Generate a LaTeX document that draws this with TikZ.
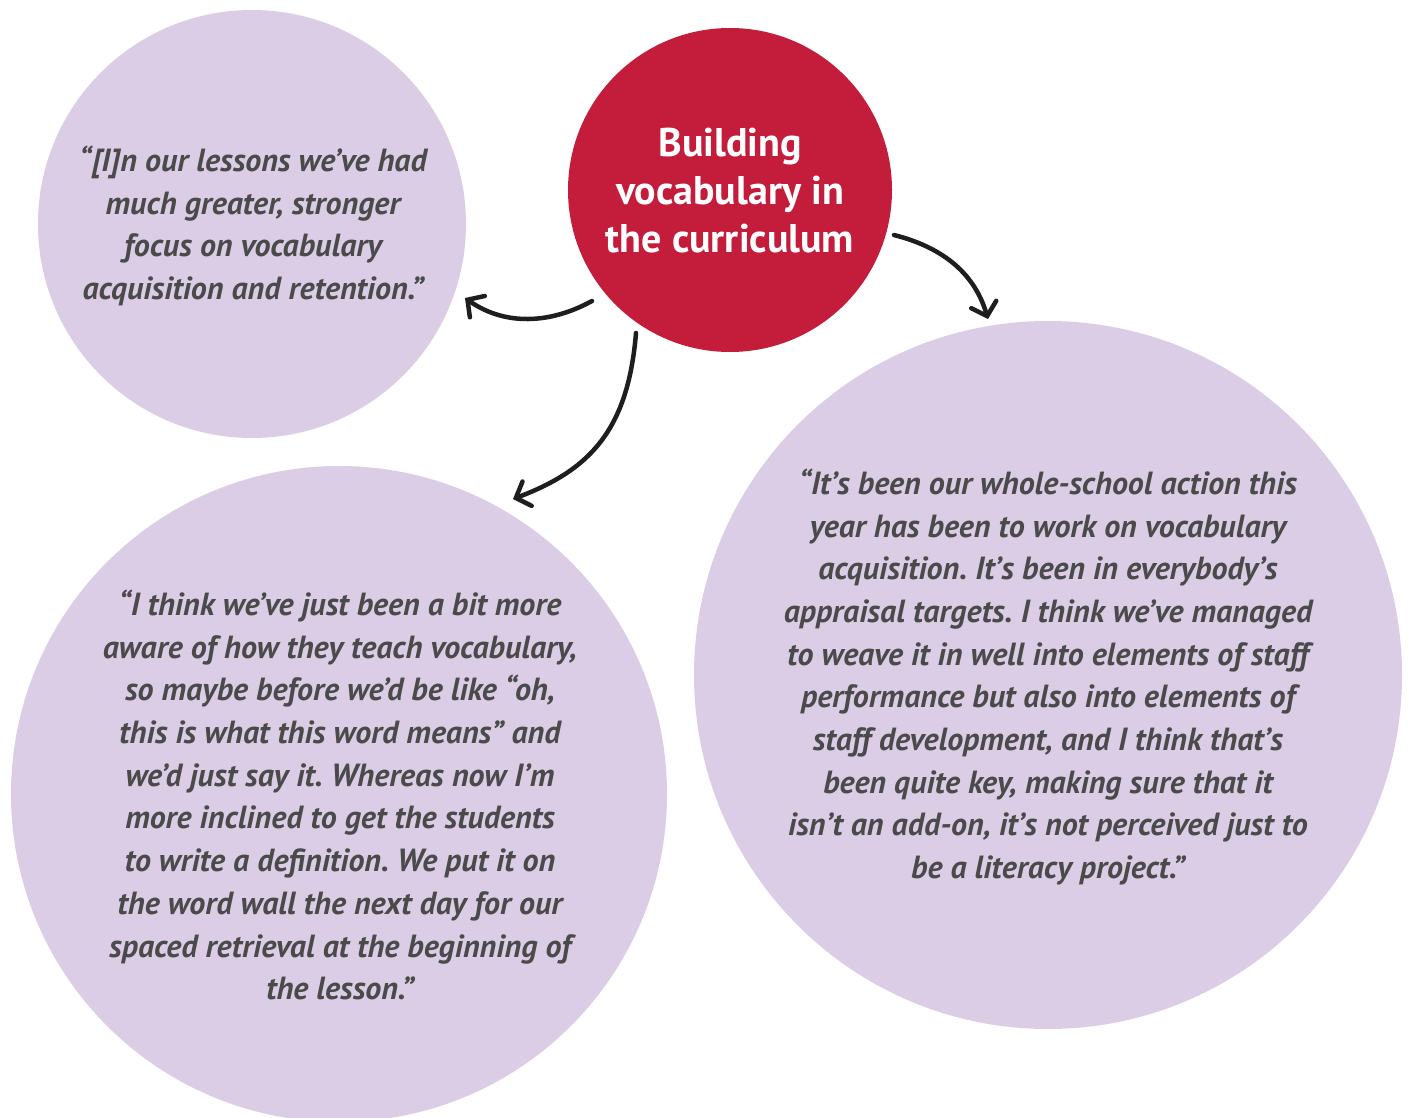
\documentclass[tikz,border=0pt]{standalone}
\usepackage{fontspec}
\setmainfont{PT Sans}
\usetikzlibrary{arrows.meta}
\definecolor{lilac}{HTML}{DCCDE6}
\definecolor{crimson}{HTML}{C41C3B}
\definecolor{quotegray}{HTML}{4A4A4A}
\definecolor{inkblack}{HTML}{1E1E1E}
\frenchspacing
\tikzset{
  bubble/.style={circle, fill=lilac, draw=none, inner sep=0pt},
  hub/.style={circle, fill=crimson, draw=none, inner sep=0pt},
  quote/.style={align=center, text=quotegray, font=\fontsize{32}{42.7}\selectfont\bfseries\itshape},
  hubtext/.style={align=center, text=white, font=\fontsize{40}{48}\selectfont\bfseries},
  link/.style={draw=inkblack, line width=4.5pt, line cap=round,
    -{Straight Barb[length=12pt, width=26pt, line width=4.5pt, line cap=round]}}
}
\begin{document}
\begin{tikzpicture}[x=1pt,y=-1pt]
\useasboundingbox (0,0) rectangle (1408,1118);
\fill[white] (0,0) rectangle (1408,1118);

% circles
\node[bubble, minimum size=428pt] (c1) at (252,224) {};
\node[bubble, minimum size=656pt] (c2) at (339,794) {};
\node[bubble, minimum size=708pt] (c3) at (1048,675) {};
\node[hub, minimum size=324pt] (hub) at (730,190) {};

% texts
\node[hubtext] (hubt) at (730,191) {Building\\vocabulary in\\the curriculum};
\node[quote] (q1) at (253,226) {“[I]n our lessons we’ve had\\much greater, stronger\\focus on vocabulary\\acquisition and retention.”};
\node[quote] (q2) at (340,795) {“I think we’ve just been a bit more\\aware of how they teach vocabulary,\\so maybe before we’d be like “oh,\\this is what this word means” and\\we’d just say it. Whereas now I’m\\more inclined to get the students\\to write a definition. We put it on\\the word wall the next day for our\\spaced retrieval at the beginning of\\the lesson.”};
\node[quote] (q3) at (1048,677) {“It’s been our whole-school action this\\year has been to work on vocabulary\\acquisition. It’s been in everybody’s\\appraisal targets. I think we’ve managed\\to weave it in well into elements of staff\\performance but also into elements of\\staff development, and I think that’s\\been quite key, making sure that it\\isn’t an add-on, it’s not perceived just to\\be a literacy project.”};

% connector end points
\coordinate (s1) at (592,301);
\coordinate (e1) at (465,298);
\coordinate (s2) at (636,333);
\coordinate (e2) at (513,499);
\coordinate (s3) at (894,235);
\coordinate (e3) at (988,319);

\draw[link] (s1) .. controls (550,324) and (505,326) .. (e1);
\draw[link] (s2) .. controls (628,430) and (590,470) .. (e2);
\draw[link] (s3) .. controls (945,248) and (975,275) .. (e3);
\end{tikzpicture}
\end{document}
